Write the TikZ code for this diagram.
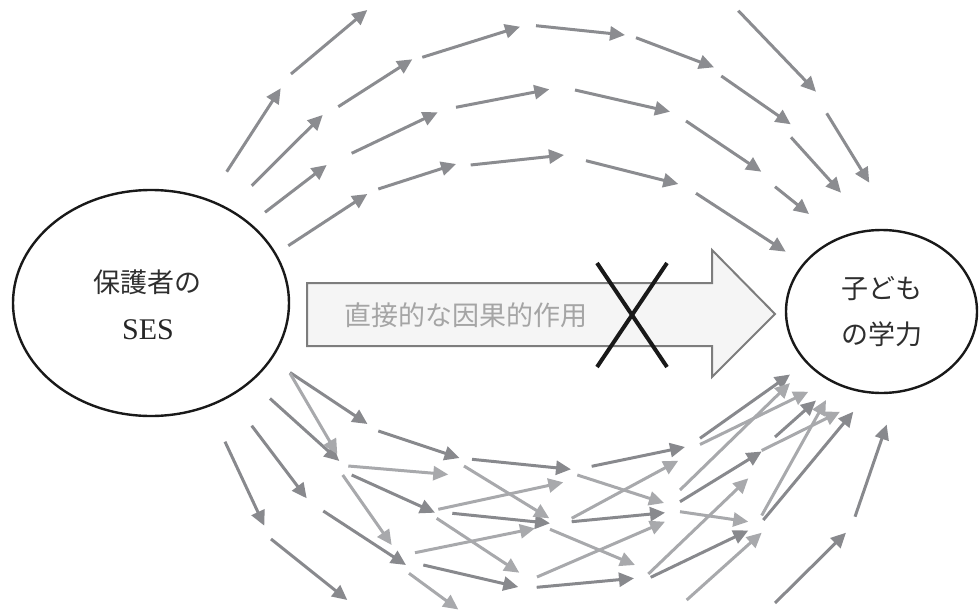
\documentclass[tikz,border=0pt]{standalone}
\usepackage{fontspec}
\newfontfamily\jp{Noto Sans CJK JP}
\newfontfamily\sesfont{Liberation Serif}
\usetikzlibrary{arrows.meta,shapes.geometric}
\definecolor{arrTop}{RGB}{139,140,144}
\definecolor{arrDark}{RGB}{136,137,141}
\definecolor{arrLight}{RGB}{168,169,172}
\definecolor{bigEdge}{RGB}{125,125,125}
\definecolor{bigFill}{RGB}{245,245,245}
\definecolor{bigText}{RGB}{165,165,165}
\tikzset{
  arrbase/.style={line width=3pt, -{Triangle[length=15pt,width=14pt]}},
  toparr/.style={arrbase, draw=arrTop, fill=arrTop},
  darkarr/.style={arrbase, draw=arrDark, fill=arrDark},
  lightarr/.style={arrbase, draw=arrLight, fill=arrLight},
  oval/.style={draw=black!90, line width=2.4pt, ellipse, inner sep=0pt},
  jptext/.style={font=\jp\fontsize{27}{27}\selectfont, text=black!82, inner sep=0pt},
}
\begin{document}
\begin{tikzpicture}[x=1pt,y=-1pt]
\useasboundingbox (0,0) rectangle (979,610);
% ellipses
\node[oval, minimum width=276pt, minimum height=226pt] (ses) at (151,303) {};
\node[oval, minimum width=191pt, minimum height=163pt] (child) at (881.5,311.5) {};
\node[jptext] (t1) at (147.5,282) {保護者の};
\node[font=\sesfont\fontsize{30}{30}\selectfont, text=black!85, inner sep=0pt] (t2) at (148,330) {SES};
\node[jptext] (t3) at (881.5,289) {子ども};
\node[jptext] (t4) at (882,334) {の学力};
% big arrow
\path[draw=bigEdge, fill=bigFill, line width=2pt, line join=miter]
  (307,283) -- (712,283) -- (712,250) -- (775,314) -- (712,377) -- (712,346) -- (307,346) -- cycle;
\node[font=\jp\fontsize{27}{27}\selectfont, text=bigText, inner sep=0pt] (direct) at (466,315) {直接的な因果的作用};
% cross
\coordinate (xa) at (597,263); \coordinate (xb) at (667,367);
\coordinate (xc) at (667,263); \coordinate (xd) at (597,367);
\draw[line width=4pt, black!90] (xa) -- (xb);
\draw[line width=4pt, black!90] (xc) -- (xd);
% top arrows
\foreach \a/\b/\c/\d in {
  226.7/171.7/280.7/88.3, 291/74/367.3/10, 251.7/185.7/322.7/115,
  338.3/106.7/412.3/59.3, 422.3/57.3/520/26.7, 536/25.7/625/35,
  636/37.7/714/67.3, 721.3/76/790.7/124.3, 738.3/10.7/816/91.7,
  826.7/113.3/869.3/182.7, 791/137.3/841/192.7,
  265/212.3/326.7/165, 351.7/153.3/437.7/112.3, 456/107.3/549.3/89.3,
  575/90/670/111.7, 686/121/761.3/171.7, 775/186.7/809/214,
  288.3/245.7/367.3/194, 378.3/189/456/164, 470.7/165/564/155,
  586/160.7/678.3/184, 696/193.3/785.7/251.7}
  \draw[toparr] (\a,\b) -- (\c,\d);
% bottom dark arrows
\foreach \a/\b/\c/\d in {
  225/441.7/264.3/525.7, 271/539/347.3/600, 251.7/425.7/306.7/498.3,
  323.3/511/406/565, 423.3/565/518.3/587, 536.7/587.3/634/578.3,
  650.7/577.3/748.3/530.5, 775/603/846/532.7, 855/516.7/886.7/424.5,
  270/398.5/339.3/461, 290/372.5/367.5/424, 351.7/475/435/512.7,
  378.3/431/459.5/458, 472/459.3/571/469.3, 591.7/466.3/685/447,
  452.3/513.3/550/523.3, 571.7/521.7/665/512.7, 680/501.7/761.7/451.5,
  700/438.3/790/374.5, 775/437/816/400.5, 763.3/520/853.3/411.7}
  \draw[darkarr] (\a,\b) -- (\c,\d);
% bottom light arrows
\foreach \a/\b/\c/\d in {
  409/573.3/458.3/609.5, 686.7/600/761.7/532.7, 648.3/574/748.3/478.3,
  290/373.3/337.3/454.3, 348.3/466/448.3/474.5, 342.7/475/391.7/545,
  464/466/549.3/518.3, 577.3/475/664/503, 438.3/509.3/563.3/482.3,
  436.7/518.3/519.3/572.7, 415/552.7/535/528.3, 571.7/518.3/678.3/460.7,
  537/577/665/521.7, 550/529.3/635/565, 680/511.7/748.3/521.7,
  680/490/790/383, 700/444.5/808.3/391.7, 761.7/450.5/840/411.7,
  761.7/515.5/826/400}
  \draw[lightarr] (\a,\b) -- (\c,\d);
\end{tikzpicture}
\end{document}
